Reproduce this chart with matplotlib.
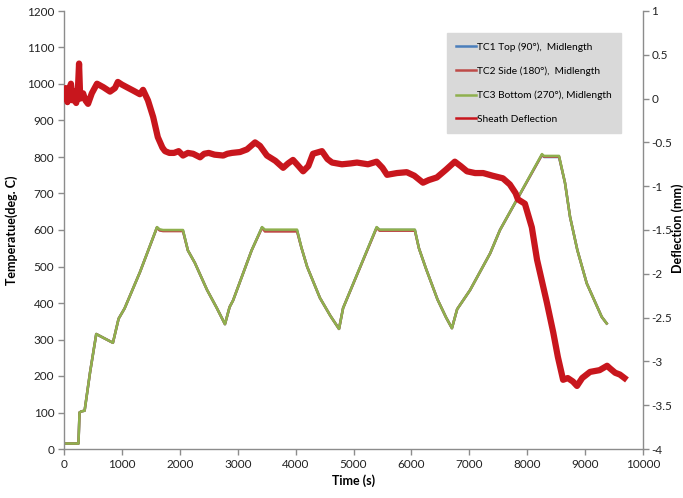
import matplotlib
matplotlib.use("Agg")
import matplotlib.pyplot as plt
from matplotlib.lines import Line2D

plt.rcParams['font.family'] = ['Lato', 'DejaVu Sans']

# ---- Thermocouple data (time s, temperature deg C) ----
tc_time = [0, 250, 268, 300, 356, 450, 557, 700, 845, 943, 1046, 1313, 1606, 1650, 1710,
           2055, 2140, 2260, 2470, 2640, 2780, 2860, 2920, 3240, 3420, 3470, 4025, 4100,
           4200, 4420, 4600, 4750, 4820, 5400, 5450, 6060, 6130, 6250, 6450, 6600, 6700,
           6790, 7012, 7360, 7530, 8255, 8290, 8550, 8653, 8740, 8866, 9028, 9287, 9373]
tc3_temp = [15, 15, 100, 103, 105, 210, 315, 303, 291, 357, 385, 485, 608, 602, 600,
            600, 544, 510, 436, 386, 342, 389, 407, 544, 608, 601, 601, 552,
            499, 414, 365, 329, 386, 608, 601, 601, 550, 495, 410, 360, 331,
            383, 435, 536, 600, 808, 803, 803, 729, 636, 545, 454, 362, 344]
tc1_temp = [15, 15, 100, 103, 105, 210, 315, 303, 291, 357, 385, 485, 607, 600, 598,
            598, 544, 510, 436, 386, 342, 389, 407, 544, 607, 599, 599, 552,
            499, 414, 365, 329, 386, 607, 600, 600, 550, 495, 410, 360, 331,
            383, 435, 536, 600, 806, 800, 800, 729, 636, 545, 454, 362, 344]
tc2_temp = [15, 15, 100, 103, 105, 210, 315, 303, 291, 357, 385, 485, 607, 599, 597,
            597, 544, 510, 436, 386, 342, 389, 407, 544, 606, 596, 596, 552,
            499, 414, 365, 329, 386, 606, 598, 598, 550, 495, 410, 360, 331,
            383, 435, 536, 600, 806, 801, 801, 729, 636, 545, 454, 362, 344]

# ---- Sheath deflection (time s, deflection mm) ----
defl_time = [0, 30, 60, 90, 120, 150, 180, 210, 240, 260, 280, 330, 370, 415, 480, 570,
             680, 795, 880, 930, 1000, 1085, 1200, 1310, 1365, 1450, 1540, 1620, 1700,
             1745, 1820, 1900, 1980, 2055, 2140, 2230, 2350, 2420, 2500, 2600, 2750, 2820,
             2900, 3040, 3160, 3300, 3385, 3505, 3650, 3785, 3870, 3955, 4050, 4130, 4220,
             4300, 4455, 4550, 4630, 4800, 4950, 5060, 5250, 5400, 5500, 5580, 5750, 5920,
             6050, 6200, 6300, 6440, 6600, 6750, 6850, 6960, 7100, 7240, 7400, 7580, 7700,
             7800, 7840, 7960, 8080, 8170, 8340, 8450, 8530, 8620, 8700, 8790, 8860, 8950,
             9085, 9250, 9380, 9430, 9520, 9600, 9680]
defl_mm = [0.06, 0.12, -0.04, 0.10, 0.17, -0.02, 0.08, -0.05, 0.10, 0.40, 0.00, 0.06, -0.02,
           -0.06, 0.06, 0.17, 0.13, 0.08, 0.12, 0.19, 0.16, 0.13, 0.09, 0.05, 0.10, -0.02,
           -0.21, -0.44, -0.56, -0.60, -0.62, -0.62, -0.60, -0.65, -0.62, -0.63, -0.67,
           -0.63, -0.62, -0.64, -0.65, -0.63, -0.62, -0.61, -0.58, -0.50, -0.54, -0.65,
           -0.71, -0.79, -0.74, -0.70, -0.77, -0.83, -0.77, -0.63, -0.60, -0.69, -0.73,
           -0.75, -0.74, -0.73, -0.75, -0.72, -0.79, -0.87, -0.85, -0.84, -0.88, -0.96,
           -0.93, -0.90, -0.81, -0.72, -0.77, -0.83, -0.85, -0.85, -0.88, -0.91, -0.98,
           -1.08, -1.15, -1.20, -1.47, -1.84, -2.33, -2.67, -2.95, -3.21, -3.19, -3.23,
           -3.28, -3.19, -3.12, -3.10, -3.05, -3.08, -3.13, -3.15, -3.19]

x_ticks = [0, 1000, 2000, 3000, 4000, 5000, 6000, 7000, 8000, 9000, 10000]
y_ticks = [0, 100, 200, 300, 400, 500, 600, 700, 800, 900, 1000, 1100, 1200]
y2_ticks = [-4, -3.5, -3, -2.5, -2, -1.5, -1, -0.5, 0, 0.5, 1]

labels = ['TC1 Top (90°),  Midlength', 'TC2 Side (180°),  Midlength',
          'TC3 Bottom (270°), Midlength', 'Sheath Deflection']
colors = ['#4a7ebb', '#be4b48', '#8fb04e', '#c8161d']

fig = plt.figure(figsize=(6.83, 4.98), dpi=100)
ax = fig.add_axes([64/683, 1-449/498, (643-64)/683, (449-11)/498])
ax2 = ax.twinx()

ax.plot(tc_time, tc1_temp, color=colors[0], lw=1.8)
ax.plot(tc_time, tc2_temp, color=colors[1], lw=1.8)
ax.plot(tc_time, tc3_temp, color=colors[2], lw=1.8)
ax2.plot(defl_time, defl_mm, color=colors[3], lw=4.5, solid_joinstyle='round')

ax.set_xlim(0, 10000)
ax.set_ylim(0, 1200)
ax2.set_ylim(-4, 1)
ax.set_xticks(x_ticks)
ax.set_yticks(y_ticks)
ax2.set_yticks(y2_ticks)
ax2.set_yticklabels([f'{v:g}' for v in y2_ticks])

spine_c = '#8c8c8c'
for a in (ax, ax2):
    a.spines['top'].set_visible(False)
    for s in ('left', 'right', 'bottom'):
        a.spines[s].set_color(spine_c)
        a.spines[s].set_linewidth(1.0)
    a.tick_params(colors=spine_c, labelcolor='#222222', labelsize=8.5, length=4, width=1.0, pad=3)
ax2.tick_params(pad=2)
ax.spines['right'].set_visible(False)
ax2.spines['left'].set_visible(False)
ax2.spines['bottom'].set_visible(False)

ax.set_xlabel('Time (s)', fontsize=9, fontweight='bold', labelpad=3)
ax.set_ylabel('Temperatue(deg. C)', fontsize=9, fontweight='bold', labelpad=6)
fig.text(678/683, 1-228/498, 'Deflection (mm)', rotation=90, ha='center', va='center',
         fontsize=9, fontweight='bold')

handles = [Line2D([], [], color=c, lw=1.8) for c in colors]
leg = ax2.legend(handles, labels, loc='upper left', bbox_to_anchor=(447/683, 1-33/498),
                 bbox_transform=fig.transFigure, fontsize=7.3, frameon=True, fancybox=False,
                 labelspacing=1.45, handlelength=2.0, handletextpad=0.1, borderpad=0.9,
                 borderaxespad=0)
leg.get_frame().set_facecolor('#d9d9d9')
leg.get_frame().set_edgecolor('#d9d9d9')
leg.get_frame().set_alpha(1)

fig.savefig('out.png', dpi=100)
